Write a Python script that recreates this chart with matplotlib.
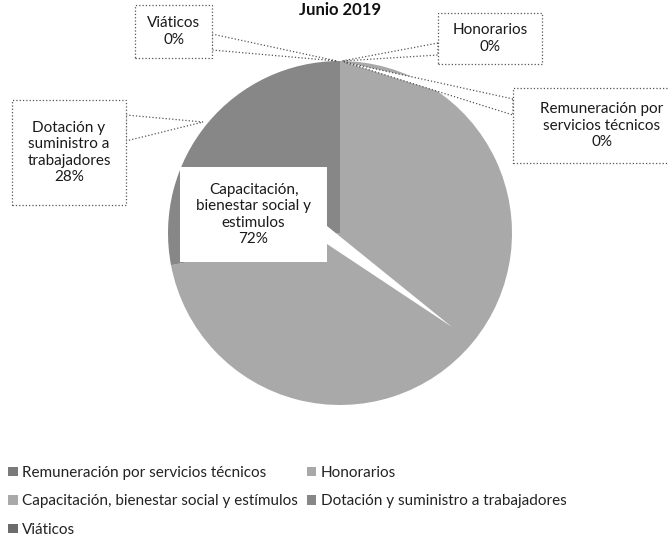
import matplotlib.pyplot as plt
from matplotlib.patches import Rectangle, Polygon

plt.rcParams["font.family"] = ["Lato", "DejaVu Sans"]

# data
categories = [
    "Remuneración por servicios técnicos",
    "Honorarios",
    "Capacitación, bienestar social y estímulos",
    "Dotación y suministro a trabajadores",
    "Viáticos",
]
shares = [0, 0, 72, 28, 0]
colors = ["#7a7a7a", "#a8a8a8", "#a9a9a9", "#878787", "#6c6c6c"]

W, H = 668, 546


def Y(y):
    # image coords (y down) -> axes coords (y up)
    return H - y


def callout(ax, box, text, p1, p2, tip, dotted=True):
    x0, y0, x1, y1 = box
    ls = ":" if dotted else "-"
    ec = "#555555" if dotted else "none"
    ax.add_patch(Polygon([(p1[0], Y(p1[1])), (tip[0], Y(tip[1])), (p2[0], Y(p2[1]))],
                         closed=True, facecolor="white", edgecolor=ec, lw=0.9, ls=ls, zorder=4))
    ax.add_patch(Rectangle((x0, Y(y1)), x1 - x0, y1 - y0, facecolor="white",
                           edgecolor=ec, lw=0.9, ls=ls, zorder=5))
    ax.text((x0 + x1) / 2, Y((y0 + y1) / 2), text, ha="center", va="center",
            fontsize=11, color="#1a1a1a", linespacing=1.2, zorder=6)


fig = plt.figure(figsize=(6.68, 5.46), dpi=100)
ax = fig.add_axes([0, 0, 1, 1])

wedges, _ = ax.pie(shares, colors=colors, startangle=90, counterclock=False,
                   center=(340, Y(233)), radius=172, wedgeprops=dict(linewidth=0))
ax.set_xlim(0, W)
ax.set_ylim(0, H)
ax.set_aspect("equal")
ax.axis("off")

ax.text(340, Y(2), "Junio 2019", ha="center", va="top", fontsize=12,
        fontweight="bold", color="#111111")

callout(ax, (135, 5, 212, 58), "Viáticos\n0%", (212, 34), (212, 50), (337, 61))
callout(ax, (438, 13, 542, 64), "Honorarios\n0%", (438, 43), (438, 55), (342, 61))
callout(ax, (513, 88, 690, 163), "Remuneración por\nservicios técnicos\n0%",
        (513, 99), (513, 115), (344, 62))
callout(ax, (12, 100, 126, 205), "Dotación y\nsuministro a\ntrabajadores\n28%",
        (126, 115), (126, 141), (203, 122))
callout(ax, (180, 167, 327, 262), "Capacitación,\nbienestar social y\nestimulos\n72%",
        (327, 226), (327, 244), (452, 327), dotted=False)

order = [0, 2, 4, 1, 3]
fig.legend([wedges[i] for i in order], [categories[i] for i in order],
           loc="upper left", bbox_to_anchor=(-0.008, 1 - 452 / H), ncol=2,
           frameon=False, fontsize=11, handlelength=0.6, handleheight=0.6,
           handletextpad=0.3, labelspacing=0.95, columnspacing=0.6,
           labelcolor="#222222")

fig.savefig("out.png", dpi=100)
